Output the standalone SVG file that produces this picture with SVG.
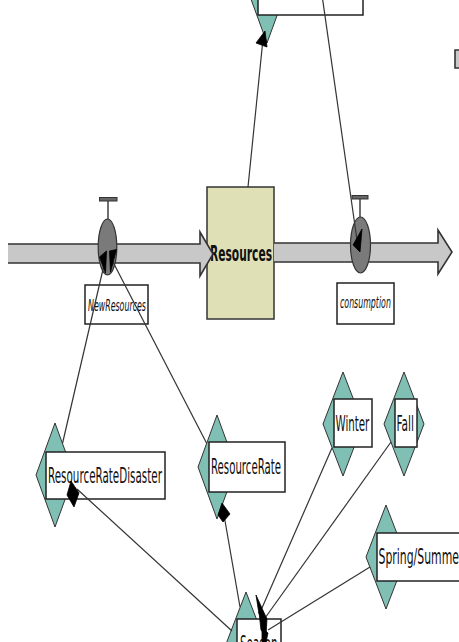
<svg xmlns="http://www.w3.org/2000/svg" width="459" height="642" viewBox="0 0 459 642">
  <style>
    .pipe { fill: #c8c8c8; stroke: none; }
    .pipe-edge { fill: none; stroke: #333; stroke-width: 1.6; stroke-linejoin: miter; }
    .valve { fill: #7a7a7a; stroke: #333; stroke-width: 1.2; }
    .stem { stroke: #333; stroke-width: 1.4; }
    .bar { fill: #666; stroke: #333; stroke-width: 1; }
    .stock { fill: #e0e0b7; stroke: #333; stroke-width: 1.5; }
    .diamond { fill: #7fbfb4; stroke: #333; stroke-width: 1; }
    .box { fill: #fff; stroke: #222; stroke-width: 1.5; }
    .lbl { font-family: "DejaVu Sans", "Liberation Sans", sans-serif; font-size: 22px; fill: #111; }
    .flow-lbl { font-family: "DejaVu Sans", "Liberation Sans", sans-serif; font-size: 16.5px; font-style: italic; fill: #111; }
    .stock-lbl { font-family: "DejaVu Sans", "Liberation Sans", sans-serif; font-size: 21px; font-weight: bold; fill: #111; }
    .link { fill: none; stroke: #333; stroke-width: 1.2; }
    .head { fill: #000; stroke: #000; stroke-width: 0.8; stroke-linejoin: round; }
  </style>

  <!-- stock -->
  <g id="Resources">
    <rect class="stock" x="207" y="187" width="67" height="132"/>
    <text class="stock-lbl" transform="translate(210,261) scale(0.509,1)">Resources</text>
  </g>

  <!-- flow pipes -->
  <g id="pipes">
    <polygon class="pipe" points="8,244 200,244 200,232 213,254 200,276 200,263 8,263"/>
    <polyline class="pipe-edge" points="8,244 200,244 200,232 213,254 200,276 200,263 8,263"/>
    <polygon class="pipe" points="274,243 438,243 438,230 452,252 438,274 438,262 274,262"/>
    <polyline class="pipe-edge" points="274,243 438,243 438,230 452,252 438,274 438,262 274,262"/>
    <rect class="pipe" x="455" y="50" width="10" height="18"/>
    <polyline class="pipe-edge" points="465,50 455,50 455,68 465,68"/>
  </g>

  <!-- flows -->
  <g id="NewResources">
    <line class="stem" x1="108" y1="219" x2="108" y2="201"/>
    <rect class="bar" x="99.5" y="197.5" width="17.5" height="3.5"/>
    <ellipse class="valve" cx="107.5" cy="247" rx="9.3" ry="28"/>
    <rect class="box" x="85" y="285" width="63" height="39"/>
    <text class="flow-lbl" transform="translate(88,311) scale(0.478,1)">NewResources</text>
  </g>
  <g id="consumption">
    <line class="stem" x1="360" y1="217" x2="360" y2="199"/>
    <rect class="bar" x="352" y="195.5" width="16" height="3.5"/>
    <ellipse class="valve" cx="360.5" cy="245" rx="10" ry="28"/>
    <rect class="box" x="337" y="283" width="57" height="41"/>
    <text class="flow-lbl" transform="translate(340,308) scale(0.477,1)">consumption</text>
  </g>

  <!-- auxiliaries -->
  <g id="Top">
    <polygon class="diamond" points="267,-61 286,-9 267,43 248,-9"/>
    <rect class="box" x="258" y="-33" width="105" height="48"/>
  </g>
  <g id="ResourceRateDisaster">
    <polygon class="diamond" points="55,423 74,475 55,527 36,475"/>
    <rect class="box" x="46" y="452" width="119" height="47"/>
    <text class="lbl" transform="translate(48,483) scale(0.471,1)">ResourceRateDisaster</text>
  </g>
  <g id="ResourceRate">
    <polygon class="diamond" points="217,415 236,467 217,519 198,467"/>
    <rect class="box" x="209" y="442" width="76" height="50"/>
    <text class="lbl" transform="translate(211,474) scale(0.463,1)">ResourceRate</text>
  </g>
  <g id="Winter">
    <polygon class="diamond" points="343,372 363,424 343,476 323,424"/>
    <rect class="box" x="334" y="399" width="38" height="48"/>
    <text class="lbl" transform="translate(335.5,431) scale(0.466,1)">Winter</text>
  </g>
  <g id="Fall">
    <polygon class="diamond" points="404,372 424,424 404,476 384,424"/>
    <rect class="box" x="395" y="399" width="22" height="48"/>
    <text class="lbl" transform="translate(396.5,431) scale(0.482,1)">Fall</text>
  </g>
  <g id="SpringSummer">
    <polygon class="diamond" points="386,505 406,557 386,609 366,557"/>
    <rect class="box" x="377" y="533" width="100" height="48"/>
    <text class="lbl" transform="translate(378.5,564) scale(0.495,1)">Spring/Summer</text>
  </g>
  <g id="Season">
    <polygon class="diamond" points="246,592 266,644 246,696 226,644"/>
    <rect class="box" x="237" y="619" width="44" height="48"/>
    <text class="lbl" transform="translate(240,651) scale(0.47,1)">Season</text>
  </g>

  <!-- connectors -->
  <g id="connectors">
    <line class="link" x1="62.6" y1="443" x2="104" y2="265"/>
    <polygon class="head" points="106.5,251 99.5,257 105.5,273"/>
    <line class="link" x1="206.5" y1="443" x2="113" y2="262"/>
    <polygon class="head" points="109.5,251 116.5,249.5 110.5,272"/>

    <line class="link" x1="248" y1="187" x2="262.5" y2="44"/>
    <polygon class="head" points="265,31 256,43 267,47"/>

    <line class="link" x1="322" y1="-5" x2="357" y2="240"/>
    <polygon class="head" points="362,229 353,245 360,252"/>

    <line class="link" x1="232" y1="631" x2="77" y2="489"/>
    <polygon class="head" points="71,481 79,493 74,507 67,495"/>

    <line class="link" x1="240" y1="607" x2="224" y2="515"/>
    <polygon class="head" points="222,503 230,514 223,522 218,515"/>

    <line class="link" x1="332" y1="448" x2="262" y2="608"/>
    <line class="link" x1="391" y1="442" x2="265" y2="618"/>
    <line class="link" x1="370" y1="567" x2="268" y2="630"/>
    <polygon class="head" points="256,595 266,617 259,614"/>
    <polygon class="head" points="259,612 267,618 266,636 261,630"/>
    <polygon class="head" points="262,628 268,633 266,642 262,642"/>
  </g>
</svg>
